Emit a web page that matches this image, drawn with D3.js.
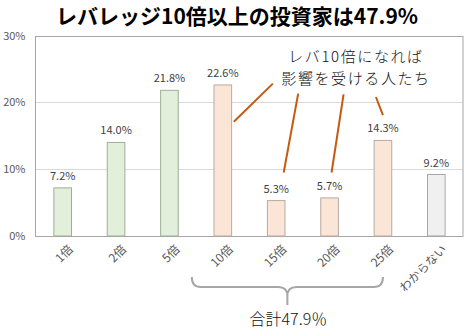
<!DOCTYPE html>
<html><head><meta charset="utf-8">
<script src="https://cdn.jsdelivr.net/npm/d3@7"></script>
<style>
html,body{margin:0;padding:0;background:#fff;}
svg{display:block;}
text{font-family:"Noto Sans CJK JP","Noto Sans",sans-serif;}
</style></head>
<body>
<svg id="chart" width="466" height="330"></svg>
<script>
const categories = ["1倍","2倍","5倍","10倍","15倍","20倍","25倍","わからない"];
const values = [7.2, 14.0, 21.8, 22.6, 5.3, 5.7, 14.3, 9.2];
const groups = ["low","low","low","high","high","high","high","unknown"];
const yTicks = [0, 10, 20, 30];
const yTickLabels = ["0%","10%","20%","30%"];
const titleText = "レバレッジ10倍以上の投資家は47.9%";
const noteLines = ["レバ10倍になれば","影響を受ける人たち"];
const sumLabel = "合計47.9％";
// leader lines: category, bottom value, top value, x-offsets from band centre
const leaderCats = ["10倍","15倍","20倍","25倍"];
const leaderBottom = [17.1, 9.5, 9.5, 18.1];
const leaderTop = [22.8, 21.3, 21.2, 20.8];
const leaderDxBottom = [11, 7.5, 2, 0];
const leaderDxTop = [50, 22, 14, -7];

const fills = {low:"#e2efda", high:"#fbe5d6", unknown:"#f0f0f0"};
const strokes = {low:"#9fae96", high:"#b8aaa2", unknown:"#a6a6a6"};

const svg = d3.select("#chart");
const m = {left:35.5, right:3, top:35.5, bottom:94};
const W = 466, H = 330;
const x = d3.scaleBand().domain(categories).range([m.left+0.5, W-m.right]).paddingInner(0.67).paddingOuter(0.335);
const y = d3.scaleLinear().domain([0,30]).range([H-m.bottom, m.top]);
const cx = c => x(c) + x.bandwidth()/2;

// gridlines
svg.append("g").selectAll("line").data(yTicks.slice(1,3)).join("line")
  .attr("x1", m.left).attr("x2", W-m.right)
  .attr("y1", d=>Math.round(y(d))+0.5).attr("y2", d=>Math.round(y(d))+0.5)
  .attr("stroke","#d9d9d9").attr("stroke-width",1);

// frame
svg.append("rect").attr("x", m.left).attr("y", Math.round(y(30))+0.5)
  .attr("width", W-m.right-m.left).attr("height", Math.round(y(0))-Math.round(y(30)))
  .attr("fill","none").attr("stroke","#a6a6a6").attr("stroke-width",1);

// y axis labels
const yAxis = d3.axisLeft(y).tickValues(yTicks).tickFormat((d,i)=>yTickLabels[i]).tickSize(0).tickPadding(10);
const ya = svg.append("g").attr("transform",`translate(${m.left},0)`).call(yAxis);
ya.select(".domain").remove();
ya.selectAll("text").attr("fill","#595959").style("font-size","11px").style("font-family","'Noto Sans CJK JP',sans-serif");

// bars
svg.append("g").selectAll("rect").data(values).join("rect")
  .attr("x",(d,i)=>x(categories[i]))
  .attr("y",d=>y(d))
  .attr("width",x.bandwidth())
  .attr("height",d=>y(0)-y(d))
  .attr("fill",(d,i)=>fills[groups[i]])
  .attr("stroke",(d,i)=>strokes[groups[i]])
  .attr("stroke-width",1);

// value labels
svg.append("g").selectAll("text").data(values).join("text")
  .attr("x",(d,i)=>cx(categories[i]))
  .attr("y",d=>y(d)-8)
  .attr("text-anchor","middle")
  .attr("fill","#404040").style("font-size","11px")
  .text(d=>d.toFixed(1)+"%");

// x axis labels rotated
const xa = svg.append("g").attr("transform",`translate(0,${y(0)})`)
  .call(d3.axisBottom(x).tickSize(0).tickPadding(0));
xa.select(".domain").remove();
xa.selectAll("text")
  .attr("fill","#595959").style("font-size","12px").style("font-family","'Noto Sans CJK JP',sans-serif")
  .attr("text-anchor","end")
  .attr("transform","translate(5,8) rotate(-45)")
  .attr("dy","0.7em").attr("y",0).attr("x",0);

// title
svg.append("text").attr("x", W/2 + 4).attr("y", 24).attr("text-anchor","middle")
  .style("font-size","21px").style("font-weight","bold").attr("fill","#000")
  .text(titleText);

// note text
svg.append("g").selectAll("text").data(noteLines).join("text")
  .attr("x", 356).attr("y",(d,i)=>62+i*22).attr("text-anchor","middle")
  .style("font-size","15px").style("font-weight","300").style("letter-spacing","1.6px").attr("fill","#111")
  .text(d=>d);

// leader lines
svg.append("g").selectAll("line").data(leaderCats).join("line")
  .attr("x1",(c,i)=>cx(c)+leaderDxBottom[i]).attr("y1",(c,i)=>y(leaderBottom[i]))
  .attr("x2",(c,i)=>cx(c)+leaderDxTop[i]).attr("y2",(c,i)=>y(leaderTop[i]))
  .attr("stroke","#c55a11").attr("stroke-width",2);

// brace
const bx0 = cx("10倍") - 31, bx1 = cx("25倍"), bm = (bx0+bx1)/2;
const by0 = 277, by1 = 287, by2 = 305;
const r = 9;
const p = d3.path();
p.moveTo(bx0, by0);
p.quadraticCurveTo(bx0, by1, bx0+r, by1);
p.lineTo(bm - r, by1);
p.quadraticCurveTo(bm, by1, bm, by1+r);
p.lineTo(bm, by2);
p.moveTo(bm, by1+r);
p.quadraticCurveTo(bm, by1, bm + r, by1);
p.lineTo(bx1 - r, by1);
p.quadraticCurveTo(bx1, by1, bx1, by0);
svg.append("path").attr("d", p.toString()).attr("fill","none")
  .attr("stroke","#a6a6a6").attr("stroke-width",2);

svg.append("text").attr("x", bm+1).attr("y", 325).attr("text-anchor","middle")
  .style("font-size","16px").style("font-weight","300").attr("fill","#111")
  .text(sumLabel);
</script>
</body></html>
